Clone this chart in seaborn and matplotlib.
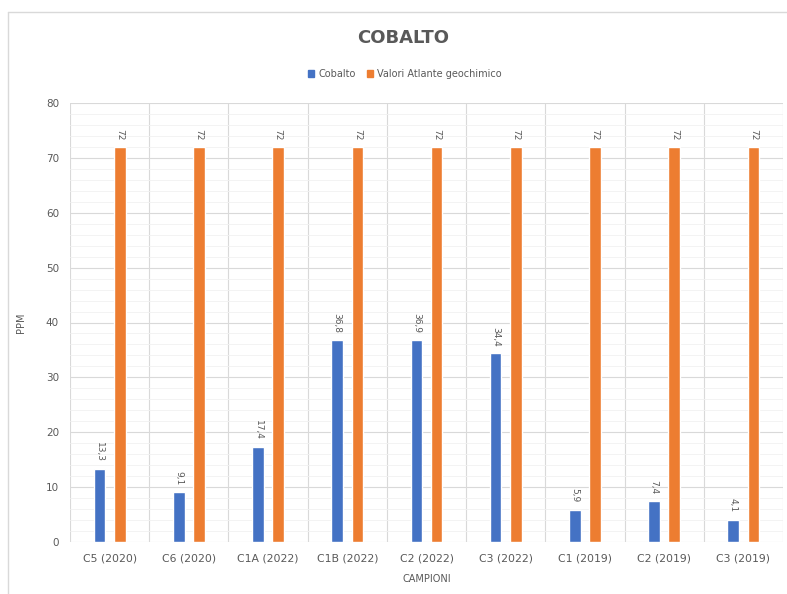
import matplotlib
matplotlib.use("Agg")
import matplotlib.pyplot as plt
from matplotlib.lines import Line2D
from matplotlib.patches import Patch
from matplotlib.ticker import MultipleLocator
import pandas as pd
import seaborn as sns

# Campioni e concentrazioni di cobalto (ppm)
campioni = ["C5 (2020)", "C6 (2020)", "C1A (2022)", "C1B (2022)", "C2 (2022)",
            "C3 (2022)", "C1 (2019)", "C2 (2019)", "C3 (2019)"]
cobalto = [13.3, 9.1, 17.4, 36.8, 36.9, 34.4, 5.9, 7.4, 4.1]
atlante = [72, 72, 72, 72, 72, 72, 72, 72, 72]
serie = ["Cobalto", "Valori Atlante geochimico"]
colori = ["#4472C4", "#ED7D31"]

df = pd.DataFrame({
    "Campione": campioni * 2,
    "PPM": cobalto + atlante,
    "Serie": [serie[0]] * len(campioni) + [serie[1]] * len(campioni),
})

sns.set_theme(style="white")
plt.rcParams["font.family"] = ["DejaVu Sans"]

W, H = 787, 594
fig = plt.figure(figsize=(W / 100, H / 100), dpi=100)
ax = fig.add_axes([70 / W, 1 - 542 / H, (783 - 70) / W, (542 - 103) / H])

sns.barplot(data=df, x="Campione", y="PPM", hue="Serie", palette=colori,
            width=0.51, gap=0.42, order=campioni, hue_order=serie,
            saturation=1, legend=False, ax=ax)

grey = "#595959"
ax.set_ylim(0, 80)
ax.set_xlim(-0.5, len(campioni) - 0.5)
ax.yaxis.set_major_locator(MultipleLocator(10))
ax.yaxis.set_minor_locator(MultipleLocator(2))
ax.grid(axis="y", which="major", color="#d9d9d9", linewidth=0.8)
ax.grid(axis="y", which="minor", color="#f1f1f1", linewidth=0.6)
ax.set_axisbelow(True)
for b in range(len(campioni) + 1):
    ax.axvline(b - 0.5, color="#d9d9d9", linewidth=0.8, zorder=0)
for s in ax.spines.values():
    s.set_visible(False)

ax.tick_params(axis="both", which="both", length=0)
ax.tick_params(axis="y", labelsize=7.5, labelcolor=grey, pad=8)
ax.tick_params(axis="x", labelsize=7.8, labelcolor=grey, pad=8)
ax.set_xlabel("CAMPIONI", fontsize=7, color=grey, labelpad=8)
ax.set_ylabel("PPM", fontsize=7, color=grey, labelpad=14)

# Etichette dei valori, con virgola decimale
for cont in ax.containers:
    vals = [p.get_height() for p in cont]
    labels = [f"{v:g}".replace(".", ",") for v in vals]
    ax.bar_label(cont, labels=labels, rotation=270, padding=5,
                 fontsize=6.5, color=grey)

fig.text(403 / W, 1 - 38 / H, "COBALTO", ha="center", va="center",
         fontsize=13, fontweight="bold", color=grey)

handles = [Patch(facecolor=c, edgecolor=c) for c in colori]
fig.legend(handles, serie, loc="center", bbox_to_anchor=(405 / W, 1 - 74 / H),
           ncol=2, frameon=False, fontsize=7, labelcolor=grey,
           handlelength=0.6, handleheight=0.6, handletextpad=0.4,
           columnspacing=1.2)

# Cornice dell'area del grafico
frame = "#d9d9d9"
fig.add_artist(Line2D([8 / W, 8 / W], [0, 1 - 12 / H], color=frame, linewidth=1))
fig.add_artist(Line2D([8 / W, 1], [1 - 12 / H, 1 - 12 / H], color=frame, linewidth=1))

fig.savefig("out.png", dpi=100, facecolor="white")
